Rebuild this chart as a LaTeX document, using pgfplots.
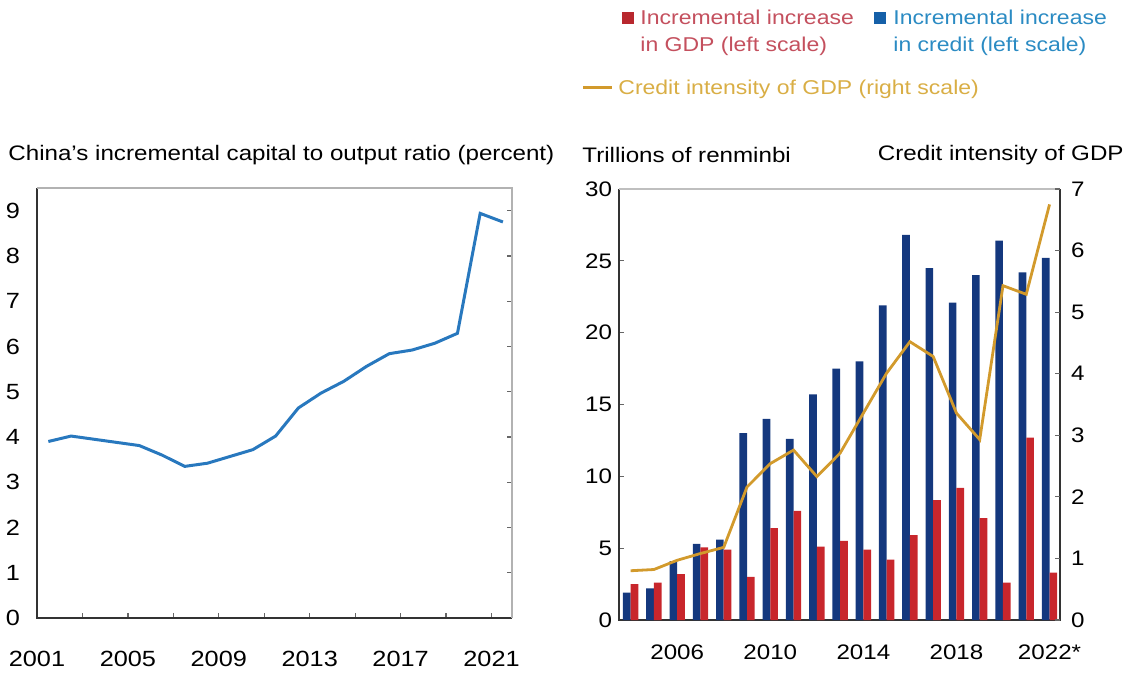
\documentclass[border=0pt]{standalone}
\usepackage{pgfplots}
\pgfplotsset{compat=1.18}
\usepackage{fontspec}
\setmainfont{Liberation Sans}[FakeStretch=1.15]
\pgfplotsset{every axis/.append style={/pgf/number format/assume math mode=true}}
\definecolor{lineblue}{HTML}{2878BE}
\definecolor{barblue}{HTML}{14387E}
\definecolor{barred}{HTML}{C8262C}
\definecolor{gold}{HTML}{D29A2C}
\definecolor{legred}{HTML}{C4505E}
\definecolor{legblue}{HTML}{2B8BC3}
\definecolor{leggold}{HTML}{D9AE45}
\definecolor{sqblue}{HTML}{1560A8}
\definecolor{sqred}{HTML}{B8282E}
\begin{document}
\begin{tikzpicture}
\path[use as bounding box] (0,0) rectangle (564.5pt,-339.5pt);
% ---------- left panel ----------
\begin{axis}[
  at={(18.5pt,-309pt)}, anchor=south west, scale only axis,
  width=237.5pt, height=215pt,
  xmin=2001, xmax=2021.9, ymin=0, ymax=9.5,
  axis line style={draw=none},
  xtick={2001,2003,...,2021},
  xticklabels={2001,,2005,,2009,,2013,,2017,,2021},
  ytick={0,...,9},
  xtick pos=lower, xticklabel pos=lower,
  ytick pos=right, yticklabel pos=left,
  tick align=inside, major tick length=2.5pt,
  tick style={color=black!60, line width=0.6pt},
  xticklabel style={font=\fontsize{11}{11}\selectfont, yshift=-13pt},
  yticklabel style={font=\fontsize{11}{11}\selectfont, xshift=-5pt},
  clip=false,
]
\draw[black!80, line width=0.8pt] (rel axis cs:0,1) -- (rel axis cs:0,0) -- (rel axis cs:1,0);
\draw[black!30, line width=0.8pt] (rel axis cs:0,1) -- (rel axis cs:1,1) -- (rel axis cs:1,0);
\addplot[lineblue, line width=1.5pt] coordinates {
 (2001.5,3.90) (2002.5,4.02) (2003.5,3.95) (2004.5,3.88) (2005.5,3.81)
 (2006.5,3.60) (2007.5,3.35) (2008.5,3.42) (2009.5,3.57) (2010.5,3.72)
 (2011.5,4.02) (2012.5,4.64) (2013.5,4.97) (2014.5,5.23) (2015.5,5.56)
 (2016.5,5.84) (2017.5,5.92) (2018.5,6.07) (2019.5,6.29) (2020.5,8.94)
 (2021.5,8.75)};
\end{axis}
% ---------- right panel: bars ----------
\begin{axis}[
  at={(309.5pt,-310pt)}, anchor=south west, scale only axis,
  width=220.5pt, height=215.5pt,
  xmin=2003.5, xmax=2022.45, ymin=0, ymax=30,
  axis line style={draw=none},
  ybar=0pt, bar width=0.33,
  xtick={2006,2010,2014,2018,2022},
  xticklabels={2006,2010,2014,2018,2022*},
  ytick={0,5,...,30},
  xtick style={draw=none},
  ytick pos=left, yticklabel pos=left,
  tick align=inside, major tick length=2.5pt,
  ytick style={color=black!60, line width=0.6pt},
  xticklabel style={font=\fontsize{10.5}{10.5}\selectfont, yshift=-9pt},
  yticklabel style={font=\fontsize{10.5}{10.5}\selectfont},
  clip=false,
]
\draw[black!80, line width=0.8pt] (rel axis cs:0,1) -- (rel axis cs:0,0) -- (rel axis cs:1,0) -- (rel axis cs:1,1);
\draw[black!25, line width=0.8pt] (rel axis cs:0,1) -- (rel axis cs:1,1);
\addplot[fill=barblue, draw=none] coordinates {
 (2004,1.9) (2005,2.2) (2006,4.1) (2007,5.3) (2008,5.6) (2009,13.0)
 (2010,14.0) (2011,12.6) (2012,15.7) (2013,17.5) (2014,18.0) (2015,21.9)
 (2016,26.8) (2017,24.5) (2018,22.1) (2019,24.0) (2020,26.4) (2021,24.2)
 (2022,25.2)};
\addplot[fill=barred, draw=none] coordinates {
 (2004,2.5) (2005,2.6) (2006,3.2) (2007,5.05) (2008,4.9) (2009,3.0)
 (2010,6.4) (2011,7.6) (2012,5.1) (2013,5.5) (2014,4.9) (2015,4.2)
 (2016,5.9) (2017,8.35) (2018,9.2) (2019,7.1) (2020,2.6) (2021,12.7)
 (2022,3.3)};
\end{axis}
% ---------- right panel: line ----------
\begin{axis}[
  at={(309.5pt,-310pt)}, anchor=south west, scale only axis,
  width=220.5pt, height=215.5pt,
  xmin=2003.5, xmax=2022.45, ymin=0, ymax=7,
  axis x line=none, axis y line*=right,
  axis line style={draw=none},
  ytick={0,...,7},
  tick align=inside, major tick length=2.5pt,
  ytick style={color=black!60, line width=0.6pt},
  yticklabel style={font=\fontsize{10.5}{10.5}\selectfont, xshift=2pt},
  clip=false,
]
\addplot[gold, line width=1.4pt] coordinates {
 (2004,0.80) (2005,0.82) (2006,0.97) (2007,1.08) (2008,1.18) (2009,2.16)
 (2010,2.54) (2011,2.76) (2012,2.33) (2013,2.71) (2014,3.36) (2015,4.01)
 (2016,4.52) (2017,4.28) (2018,3.36) (2019,2.93) (2020,5.43) (2021,5.29)
 (2022,6.75)};
\end{axis}
% ---------- titles ----------
\node[anchor=west, inner sep=0pt, font=\fontsize{10.5}{10.5}\selectfont] at (4pt,-77.5pt) {China's incremental capital to output ratio (percent)};
\node[anchor=west, inner sep=0pt, font=\fontsize{10.5}{10.5}\selectfont] at (291pt,-77.5pt) {Trillions of renminbi};
\node[anchor=east, inner sep=0pt, font=\fontsize{10.5}{10.5}\selectfont] at (562pt,-77.5pt) {Credit intensity of GDP};
% ---------- legend ----------
\fill[sqred] (311pt,-6pt) rectangle (317pt,-12pt);
\node[anchor=base west, inner sep=0pt, text=legred, font=\fontsize{10}{10}\selectfont] at (320pt,-12.5pt) {Incremental increase};
\node[anchor=base west, inner sep=0pt, text=legred, font=\fontsize{10}{10}\selectfont] at (320pt,-26pt) {in GDP (left scale)};
\fill[sqblue] (437pt,-6pt) rectangle (443pt,-12pt);
\node[anchor=base west, inner sep=0pt, text=legblue, font=\fontsize{10}{10}\selectfont] at (446.5pt,-12.5pt) {Incremental increase};
\node[anchor=base west, inner sep=0pt, text=legblue, font=\fontsize{10}{10}\selectfont] at (446.5pt,-26pt) {in credit (left scale)};
\draw[gold, line width=1.5pt] (291.5pt,-44pt) -- (306pt,-44pt);
\node[anchor=base west, inner sep=0pt, text=leggold, font=\fontsize{10}{10}\selectfont] at (309pt,-47.5pt) {Credit intensity of GDP (right scale)};
\end{tikzpicture}
\end{document}
